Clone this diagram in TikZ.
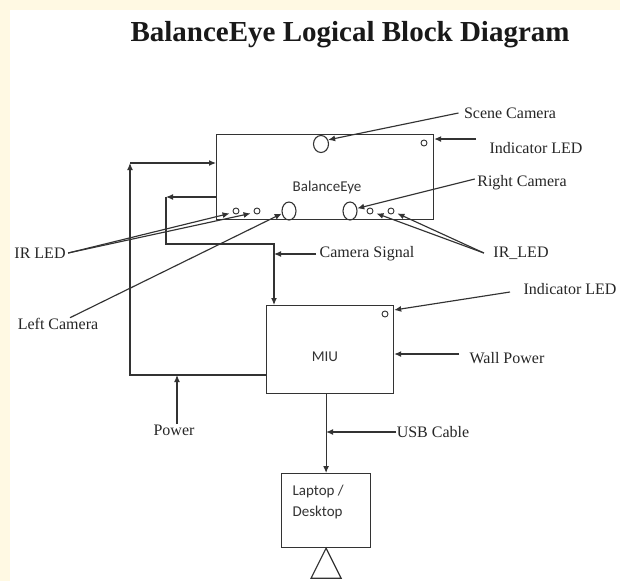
\documentclass[tikz,border=0pt]{standalone}
\usepackage{fontspec}
\setmainfont{Liberation Serif}
\newfontfamily\calibri{Carlito}
\usetikzlibrary{positioning, arrows.meta, shapes.geometric, calc}
\definecolor{cream}{HTML}{FFF9E3}
\definecolor{ink}{HTML}{333333}

\begin{document}
\begin{tikzpicture}[x=1pt, y=-1pt, line width=1.15pt, draw=ink, >={Latex[length=7pt,width=6pt]}]
	\tikzstyle{block}=[draw=ink, line width=1.2pt, rectangle, inner sep=0pt, anchor=north west]
	\tikzstyle{inside}=[font=\calibri\fontsize{15}{21}\selectfont, text=ink]
	\tikzstyle{annot}=[font=\fontsize{16}{19}\selectfont, text=black!85, inner sep=0pt]
	\tikzstyle{led}=[draw=ink, line width=0.9pt, circle, minimum size=6pt, inner sep=0pt]
	\tikzstyle{lens}=[draw=ink, line width=1.1pt, ellipse, minimum width=14pt, minimum height=18pt, inner sep=0pt]
	\tikzstyle{arr}=[->, draw=ink]
	
	% Page
	\fill[white] (0,0) rectangle (620,581);
	\fill[cream] (0,0) rectangle (620,10);
	\fill[cream] (0,0) rectangle (10,581);
	\useasboundingbox (0,0) rectangle (620,581);
	
	\node[font=\bfseries\fontsize{29}{34}\selectfont, text=black!90] (title) at (350,35) {BalanceEye Logical Block Diagram};
	
	% Blocks
	\node[block, minimum width=217pt, minimum height=85pt] (eye) at (216,134) {};
	\node[inside] (eyename) at (327,187) {BalanceEye};
	\node[block, minimum width=127pt, minimum height=88pt] (miu) at (266,305) {};
	\node[inside] (miuname) at (325,357) {MIU};
	\node[block, minimum width=89pt, minimum height=74pt] (pc) at (281,473) {};
	\node[inside, align=left, anchor=north west, inner sep=0pt] (pcname) at (292,484) {Laptop /\\Desktop};
	\draw (pc.south) -- ++(-15,30) -- ++(30,0) -- cycle;
	
	% Cameras and LEDs
	\node[lens, minimum width=15pt, minimum height=17pt] (scenecam) at (321,144) {};
	\node[lens] (leftcam) at (289,211) {};
	\node[lens] (rightcam) at (350,211) {};
	\node[led] (topled) at (424,143) {};
	\node[led] (miuled) at (385,314) {};
	\foreach \name/\x in {irl1/236, irl2/257, irr1/370, irr2/391}
	\node[led] (\name) at (\x,211) {};
	
	% Labels
	\node[annot] (lblscene) at (510,113) {Scene Camera};
	\node[annot] (lbltopled) at (536,148) {Indicator LED};
	\node[annot] (lblright) at (522,183) {Right Camera};
	\node[annot] (lblirr) at (521,253) {IR\_LED};
	\node[annot] (lblsignal) at (367,254) {Camera Signal};
	\node[annot] (lblirl) at (40,253) {IR LED};
	\node[annot] (lblleft) at (58,324) {Left Camera};
	\node[annot] (lblmiuled) at (570,289) {Indicator LED};
	\node[annot] (lblwall) at (507,358) {Wall Power};
	\node[annot] (lblpower) at (174,430) {Power};
	\node[annot] (lblusb) at (433,432) {USB Cable};
	
	% Wires
	\coordinate (pwr) at (130,375);
	\coordinate (pwrtop) at (130,163);
	\coordinate (sigout) at (166,197);
	\coordinate (sig) at (274,244);
	\draw[arr] (pwr -| miu.west) -- (pwr) -- (pwrtop);
	\draw[arr] (pwrtop) -- (pwrtop -| eye.west);
	\draw[arr] (sigout -| eye.west) -- (sigout);
	\draw[arr] (sigout) |- (sig) -- (sig |- miu.north);
	\draw[arr] (pc.north |- miu.south) -- (pc.north);
	
	% Pointers
	\coordinate (toptail) at ([xshift=-13pt,yshift=9pt]lbltopled.west);
	\coordinate (walltail) at ([xshift=-10pt,yshift=4pt]lblwall.west);
	\draw[arr] ([xshift=-5pt]lblscene.west) -- (scenecam.30);
	\draw[arr] (toptail) -- (toptail -| eye.east);
	\draw[arr] ([xshift=-2pt,yshift=4pt]lblright.west) -- (rightcam.20);
	\foreach \d in {irr1, irr2}
	\draw[arr] ([xshift=-9pt]lblirr.west) -- ([xshift=4pt]\d.south east);
	\foreach \d in {irl1, irl2}
	\draw[arr] ([xshift=2pt]lblirl.east) -- ([xshift=-4pt]\d.south west);
	\draw[arr] ([xshift=12pt]lblleft.north) -- (leftcam.200);
	\draw[arr] ([xshift=-3pt]lblsignal.west) -- (lblsignal.west -| sig);
	\draw[arr] ([xshift=-13pt,yshift=-3pt]lblmiuled.west) -- ([yshift=4pt]miuled -| miu.east);
	\draw[arr] (walltail) -- (walltail -| miu.east);
	\draw[arr] ([xshift=3pt]lblpower.north) -- ([xshift=3pt]lblpower.north |- pwr);
	\draw[arr] (lblusb.west) -- (lblusb.west -| pc.north);
\end{tikzpicture}
\end{document}
